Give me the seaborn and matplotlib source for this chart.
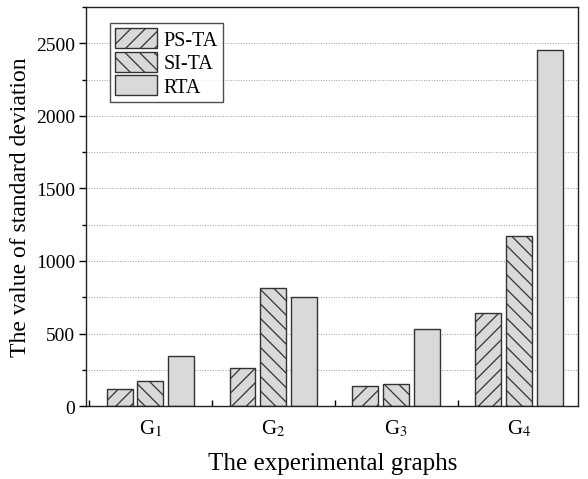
import numpy as np
import pandas as pd
import matplotlib.pyplot as plt
from matplotlib.ticker import MultipleLocator
import seaborn as sns

graphs = ["G$_1$", "G$_2$", "G$_3$", "G$_4$"]
methods = ["PS-TA", "SI-TA", "RTA"]
ps_ta = [119, 262, 135, 638]
si_ta = [176, 812, 149, 1173]
rta = [342, 753, 532, 2456]

df = pd.DataFrame({
    "graph": graphs * 3,
    "method": [m for m in methods for _ in graphs],
    "value": ps_ta + si_ta + rta,
})

# render at a lower dpi so the hatch pattern comes out a bit denser
DPI = 87.5
S = 100 / DPI

sns.set_style("ticks")
plt.rcParams["font.family"] = ["Liberation Serif", "DejaVu Serif"]
plt.rcParams["mathtext.fontset"] = "stix"
plt.rcParams["hatch.linewidth"] = 0.9 * S
plt.rcParams["hatch.color"] = "#222222"
for k in ["text.color", "axes.labelcolor", "xtick.color", "ytick.color"]:
    plt.rcParams[k] = "black"

fig, ax = plt.subplots(figsize=(5.88 * S, 4.8 * S), dpi=DPI)
sns.barplot(data=df, x="graph", y="value", hue="method", hue_order=methods,
            palette=["#d9d9db"] * 3, width=0.75, gap=0.16,
            edgecolor="#333333", linewidth=1.0 * S, ax=ax)

hatches = ["//", "\\\\", ""]
for cont, h in zip(ax.containers, hatches):
    for bar in cont:
        bar.set_hatch(h)

ax.set_xlim(-0.52, 3.48)
ax.set_ylim(0, 2750)
ax.yaxis.set_major_locator(MultipleLocator(500))
ax.yaxis.set_minor_locator(MultipleLocator(250))
ax.grid(axis="y", which="both", linestyle=":", color="#999999", linewidth=0.7 * S)
ax.set_axisbelow(True)
ax.tick_params(axis="y", which="major", direction="out", length=5 * S,
               width=S, labelsize=14 * S)
ax.tick_params(axis="y", which="minor", direction="out", length=3 * S, width=S)
ax.tick_params(axis="x", which="major", direction="in", length=4 * S, width=S,
               labelsize=15 * S, pad=8 * S)
ax.xaxis.set_minor_locator(MultipleLocator(0.5))
ax.tick_params(axis="x", which="minor", direction="in", length=4 * S, width=S)
for s in ax.spines.values():
    s.set_visible(True)
    s.set_color("#222222")
    s.set_linewidth(1.0 * S)

ax.set_xlabel("The experimental graphs", fontsize=18 * S, labelpad=10 * S)
ax.set_ylabel("The value of standard deviation", fontsize=17 * S)

leg = ax.legend(loc="upper left", bbox_to_anchor=(0.04, 0.97), fontsize=14.5 * S,
                frameon=True, fancybox=False, edgecolor="#222222",
                handlelength=2.1, handleheight=1.15, labelspacing=0.08,
                handletextpad=0.3, borderpad=0.25, borderaxespad=0.2)
leg.get_frame().set_linewidth(1.0 * S)
for patch, h in zip(leg.get_patches(), hatches):
    patch.set_hatch(h)

plt.subplots_adjust(left=0.147, right=0.983, top=0.983, bottom=0.152)
fig.savefig("out.png", dpi=DPI)
